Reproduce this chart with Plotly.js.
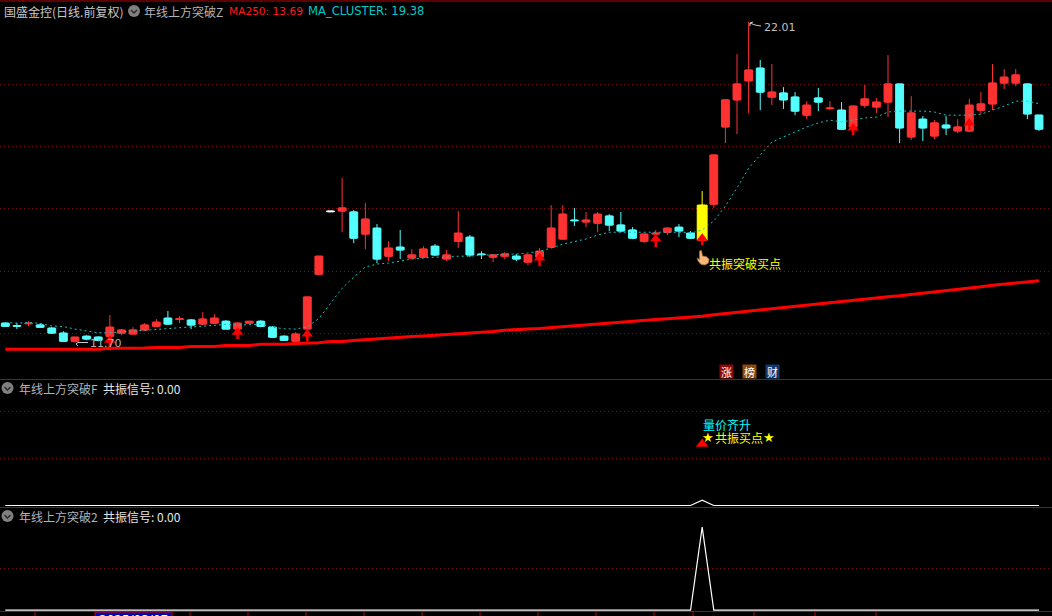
<!DOCTYPE html>
<html>
<head>
<meta charset="utf-8">
<script src="https://cdn.plot.ly/plotly-3.0.1.min.js"></script>
<style>html,body{margin:0;padding:0;background:#000;overflow:hidden}#chart{width:1052px;height:616px}</style>
</head>
<body>
<div id="chart"></div>
<script>
// Daily candles (one value per trading day)
const openPrice = [
12.33,12.25,12.31,12.27,12.17,12.01,11.75,11.91,11.88,11.91,
12.01,11.98,12.11,12.23,12.49,12.45,12.43,12.30,12.33,12.39,
12.14,12.33,12.39,12.20,11.91,11.75,12.14,13.90,15.93,15.93,
15.90,15.19,15.38,14.48,14.77,14.42,14.45,14.80,14.39,14.96,
15.09,14.55,14.45,14.48,14.48,14.29,14.45,14.77,15.03,15.64,
15.58,15.54,15.77,15.48,15.32,14.96,15.19,15.25,15.41,15.22,
15.00,16.15,18.63,19.50,20.11,20.52,19.59,19.72,19.59,19.01,
19.56,19.22,19.17,18.63,19.33,19.27,19.43,20.01,18.31,18.88,
18.34,18.69,18.50,18.50,19.17,19.37,20.04,20.04,20.01,19.01];
const closePrice = [
12.23,12.23,12.33,12.20,12.01,11.75,11.88,11.82,11.78,12.20,
12.11,12.11,12.27,12.36,12.30,12.47,12.27,12.46,12.49,12.14,
12.33,12.39,12.23,11.88,11.78,11.98,13.17,14.48,15.91,16.03,
15.06,15.67,14.39,14.74,14.68,14.52,14.71,14.52,14.52,15.22,
14.52,14.53,14.52,14.55,14.39,14.52,14.64,15.38,15.83,15.62,
15.64,15.83,15.48,15.29,15.06,15.19,15.22,15.38,15.29,15.06,
16.12,17.73,19.50,20.01,20.46,19.75,19.75,19.50,19.14,19.33,
19.43,19.24,18.56,19.30,19.53,19.43,20.01,18.60,19.08,18.60,
18.76,18.60,18.63,19.33,19.37,20.04,20.23,20.30,19.05,18.56];
const highPrice = [
12.35,12.34,12.39,12.33,12.20,12.07,11.88,11.94,11.91,12.59,
12.14,12.20,12.33,12.46,12.72,12.55,12.46,12.68,12.62,12.43,
12.36,12.39,12.43,12.23,11.94,12.04,13.17,14.48,15.93,16.99,
15.96,16.19,15.51,14.96,15.32,14.71,14.80,14.87,14.68,15.93,
15.16,14.64,14.52,14.61,14.55,14.55,14.74,16.12,16.12,16.03,
15.90,15.90,15.83,15.90,15.41,15.19,15.32,15.41,15.51,15.29,
16.57,17.73,19.50,20.97,22.01,20.78,20.65,19.91,19.75,19.46,
19.88,19.46,19.43,19.30,19.98,19.56,20.94,20.01,19.62,18.98,
18.85,18.98,18.88,19.53,19.75,20.65,20.49,20.49,20.01,19.01];
const lowPrice = [
12.22,12.14,12.23,12.20,11.98,11.75,11.70,11.78,11.75,11.88,
11.94,11.98,12.07,12.23,12.27,12.33,12.14,12.27,12.30,12.14,
12.11,12.30,12.20,11.85,11.78,11.72,12.14,13.90,15.91,15.25,
14.90,14.71,14.26,14.32,14.39,14.42,14.45,14.48,14.32,14.74,
14.45,14.39,14.29,14.39,14.32,14.19,14.42,14.77,15.03,15.45,
15.41,15.25,15.29,15.25,15.03,14.90,15.06,15.16,15.09,15.03,
15.00,16.03,18.11,18.40,19.08,19.17,19.33,19.21,19.01,18.88,
19.14,19.17,18.56,18.37,19.24,19.08,18.95,18.11,18.21,18.18,
18.24,18.37,18.43,18.47,19.04,19.17,19.85,19.94,18.88,18.50];
const maCluster = [
12.35,12.33,12.35,12.32,12.24,12.22,12.14,12.07,12.02,12.02,
12.06,12.08,12.10,12.13,12.17,12.18,12.21,12.23,12.27,12.29,
12.27,12.29,12.29,12.20,12.15,12.14,12.21,12.48,12.97,13.45,
13.81,14.13,14.23,14.26,14.32,14.39,14.42,14.45,14.45,14.48,
14.48,14.52,14.52,14.55,14.55,14.58,14.64,14.74,14.87,14.96,
15.03,15.16,15.25,15.25,15.25,15.25,15.25,15.25,15.25,15.22,
15.32,15.61,16.09,16.67,17.31,17.73,18.15,18.31,18.47,18.63,
18.76,18.85,18.79,18.85,18.92,18.95,19.11,19.14,19.14,19.14,
19.11,19.01,19.01,19.01,19.04,19.17,19.30,19.46,19.46,19.38];
const ma250 = [
11.49,11.49,11.49,11.49,11.49,11.49,11.49,11.49,11.49,11.52,
11.52,11.52,11.53,11.55,11.55,11.55,11.58,11.58,11.58,11.61,
11.61,11.61,11.65,11.65,11.65,11.68,11.68,11.70,11.74,11.74,
11.77,11.80,11.83,11.85,11.87,11.90,11.92,11.94,11.98,12.00,
12.02,12.04,12.06,12.10,12.11,12.14,12.16,12.19,12.22,12.26,
12.29,12.32,12.35,12.37,12.39,12.42,12.45,12.47,12.49,12.51,
12.55,12.60,12.64,12.68,12.72,12.76,12.80,12.84,12.87,12.91,
12.94,12.98,13.03,13.07,13.11,13.15,13.18,13.21,13.25,13.28,
13.33,13.37,13.41,13.45,13.50,13.55,13.58,13.62,13.66,13.69];
const resonanceSignal = [
0,0,0,0,0,0,0,0,0,0, 0,0,0,0,0,0,0,0,0,0,
0,0,0,0,0,0,0,0,0,0, 0,0,0,0,0,0,0,0,0,0,
0,0,0,0,0,0,0,0,0,0, 0,0,0,0,0,0,0,0,0,0,
1,0,0,0,0,0,0,0,0,0, 0,0,0,0,0,0,0,0,0,0,
0,0,0,0,0,0,0,0,0,0];
const yellowDays = [60];
const whiteDays = [28];
const arrowDays = [9,20,26,46,56,60,73,83];
const arrowHead = [11.78,12.04,11.98,14.42,15.03,15.06,18.60,18.76];
const arrowBase = [11.46,11.82,11.75,14.16,14.77,14.84,18.37,18.53];
const priceTicks = [12,14,16,18,20];
const days = openPrice.map((_, i) => i);

const W = 1052, H = 616;
const fx = x => x / W, fy = y => 1 - y / H;
const RED = '#ff3232', CYAN = '#54ffff', GRID = '#741010', AXIS = '#b80000';
const CJK = '"Noto Sans CJK SC"', LAT = '"DejaVu Sans"';

function candles(list, up, down) {
  const pick = a => list.map(i => a[i]);
  return {
    type: 'candlestick', x: list, open: pick(openPrice), high: pick(highPrice),
    low: pick(lowPrice), close: pick(closePrice), xaxis: 'x', yaxis: 'y', hoverinfo: 'skip',
    increasing: {line: {color: up, width: 1}, fillcolor: up},
    decreasing: {line: {color: down, width: 1}, fillcolor: down},
    showlegend: false
  };
}
const colorOf = i => yellowDays.includes(i) ? '#ffff00' : whiteDays.includes(i) ? '#ffffff'
  : closePrice[i] >= openPrice[i] ? RED : CYAN;
const special = yellowDays.concat(whiteDays);
const regular = days.filter(i => !special.includes(i));
const stemX = [], stemY = [];
arrowDays.forEach((d, k) => { stemX.push(d, d, null); stemY.push(arrowHead[k], arrowBase[k], null); });

const traces = [
  candles(regular, RED, CYAN),
  candles(whiteDays, '#ffffff', '#ffffff'),
  candles(yellowDays, '#ffff00', '#ffff00'),
  {type:'bar', x:days, base:days.map(i => Math.min(openPrice[i], closePrice[i])),
   y:days.map(i => Math.abs(closePrice[i] - openPrice[i])), yaxis:'y', hoverinfo:'skip',
   width:days.map(i => yellowDays.includes(i) ? 0.85 : 0.68),
   marker:{color:days.map(colorOf), line:{color:days.map(colorOf), width:1}}},
  {type:'scatter', mode:'lines', x:days, y:maCluster, yaxis:'y', hoverinfo:'skip',
   line:{color:'#10c4c4', width:1, dash:'2px,3px'}},
  {type:'scatter', mode:'lines', x:days, y:ma250, yaxis:'y', hoverinfo:'skip',
   line:{color:'#ff0000', width:3}},
  {type:'scatter', mode:'lines', x:stemX, y:stemY, yaxis:'y', hoverinfo:'skip',
   line:{color:'#ff0000', width:2.5}},
  {type:'scatter', mode:'markers', x:arrowDays, y:arrowHead, yaxis:'y', hoverinfo:'skip',
   marker:{symbol:'triangle-up', size:10, color:'#ff0000'}},
  {type:'scatter', mode:'lines', x:days, y:resonanceSignal, yaxis:'y2', hoverinfo:'skip',
   line:{color:'#ffffff', width:1.2}},
  {type:'scatter', mode:'markers', x:[60], y:[11.6], yaxis:'y2', hoverinfo:'skip',
   marker:{symbol:'triangle-up', size:11, color:'#ff0000'}},
  {type:'scatter', mode:'lines', x:days, y:resonanceSignal, yaxis:'y3', hoverinfo:'skip',
   line:{color:'#ffffff', width:1.2}}
];

function note(text, x, y, color, size, family, extra) {
  return Object.assign({
    text, xref:'paper', yref:'paper', x:fx(x), y:fy(y), xanchor:'left', yanchor:'middle',
    showarrow:false, borderpad:0, font:{color, size:size||12, family:family||CJK}
  }, extra||{});
}
const pathOf = pts => pts.map((p,i) => (i ? 'L' : 'M') + fx(p[0]) + ',' + fy(p[1])).join(' ');
function hline(y, color) {
  return {type:'line', xref:'paper', yref:'paper', x0:0, x1:1, y0:fy(y), y1:fy(y), line:{color:color||AXIS, width:1}};
}
function tick(x) {
  return {type:'line', xref:'paper', yref:'paper', x0:fx(x), x1:fx(x), y0:fy(612), y1:fy(616), line:{color:AXIS, width:1}};
}
function chevronIcon(cx, cy) {
  return [
    {type:'circle', xref:'paper', yref:'paper', x0:fx(cx-6), x1:fx(cx+6), y0:fy(cy+6), y1:fy(cy-6),
     fillcolor:'#808080', line:{width:0}},
    {type:'path', xref:'paper', yref:'paper', path:pathOf([[cx-3,cy-1],[cx,cy+2],[cx+3,cy-1]]),
     line:{color:'#262626', width:1.3}}
  ];
}
function markerLine(pts) {
  return {type:'path', xref:'paper', yref:'paper', path:pathOf(pts), line:{color:'#c8c8c8', width:1}};
}

const shapes = [
  hline(1), hline(379.5), hline(507.5), hline(611.5),
  {type:'line', xref:'paper', yref:'paper', x0:fx(23), x1:fx(23), y0:fy(0), y1:fy(2), line:{color:AXIS, width:1}},
  ...[35,190,248,306,364,422,480,538,596,654,693,754,815,876].map(tick),
  {type:'rect', xref:'paper', yref:'paper', x0:fx(95), x1:fx(172), y0:fy(617), y1:fy(612),
   fillcolor:'#0000a8', line:{color:'#d00000', width:1}},
  ...chevronIcon(134, 11), ...chevronIcon(7.5, 388), ...chevronIcon(7.5, 516),
  markerLine([[761,26],[755,25],[750,23]]), markerLine([[750,23],[750,26]]), markerLine([[750,23],[753,22]]),
  markerLine([[88,342.5],[78,342.5],[76,344],[78,346]]),
  // pointing hand beside the buy-point label
  {type:'path', xref:'paper', yref:'paper',
   path: pathOf([[699.5,251],[701.5,250.5],[702.5,256],[706,256.5],[709,259],[708.5,263],[705,265],[701,264.5],[698,261],[697,258],[699.5,259.5]]) + ' Z',
   fillcolor:'#f5b878', line:{color:'#a86a30', width:0.7}}
];

const annotations = [
  note('国盛金控(日线.前复权)', 2.5, 11, '#c8c8c8'),
  note('年线上方突破Z', 143, 11, '#b4b4b4'),
  note('MA250: 13.69', 228, 11, '#ff1a1a', 10.6, LAT),
  note('MA_CLUSTER: 19.38', 307, 11, '#00c8c8', 11.6, LAT),
  note('22.01', 763, 28, '#c0c0c0', 11, LAT),
  note('11.70', 89, 343.5, '#b0b0b0', 11, LAT),
  note('共振突破买点', 707.5, 263, '#ffff00'),
  note('涨', 719, 371.5, '#ffffff', 11, CJK, {bgcolor:'#8c0a0a', width:13, height:13, align:'center'}),
  note('榜', 742, 371.5, '#ffffff', 11, CJK, {bgcolor:'#8a4a12', width:13, height:13, align:'center'}),
  note('财', 765, 371.5, '#ffffff', 11, CJK, {bgcolor:'#123a6e', width:13, height:13, align:'center'}),
  note('年线上方突破F', 17.5, 388, '#b4b4b4'),
  note('共振信号: 0.00', 101.5, 388, '#e4e4e4'),
  note('量价齐升', 701.5, 424, '#00ffff'),
  note('★', 701, 437, '#ffff00', 13, LAT),
  note('共振买点', 714, 437, '#ffff00'),
  note('★', 761.5, 437, '#ffff00', 13, LAT),
  note('年线上方突破2', 17.5, 516, '#b4b4b4'),
  note('共振信号: 0.00', 101.5, 516, '#e4e4e4'),
  note('2025/03/07', 98, 620, '#ffffff', 12, LAT)
];

const hiddenY = (domain, range, ticks) => ({
  domain, range, fixedrange:true, showline:false, zeroline:false, showticklabels:false, ticks:'',
  tickmode:'array', tickvals:ticks, showgrid:true, gridcolor:GRID, gridwidth:1, griddash:'1px,3px'
});

const layout = {
  width:W, height:H, margin:{l:0,r:0,t:0,b:0}, paper_bgcolor:'#000', plot_bgcolor:'#000',
  showlegend:false, hovermode:false, dragmode:false, barmode:'overlay',
  xaxis:{domain:[0,1], range:[-0.456,90.12], visible:false, fixedrange:true, rangeslider:{visible:false}},
  yaxis:hiddenY([fy(379.5),1],[10.52,22.708],priceTicks),
  yaxis2:hiddenY([fy(507.5),fy(379.5)],[-0.377,23.77],[8.87,17.66]),
  yaxis3:hiddenY([fy(611.5),fy(507.5)],[-0.016,1.236],[0.5]),
  shapes, annotations
};
Plotly.newPlot('chart', traces, layout, {displayModeBar:false, staticPlot:true});
</script>
</body>
</html>
